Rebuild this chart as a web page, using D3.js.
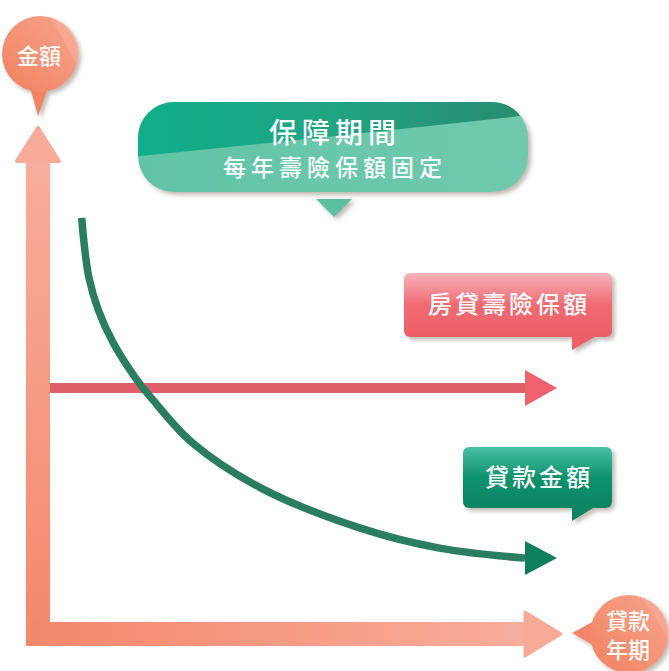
<!DOCTYPE html>
<html><head><meta charset="utf-8">
<script src="https://cdn.jsdelivr.net/npm/d3@7"></script>
<style>
body{margin:0;background:#fff}
svg{display:block}
text{font-family:"Noto Sans CJK TC","Noto Sans CJK SC","Noto Sans",sans-serif;fill:#fff;font-weight:500}
</style></head><body>
<svg id="c" width="669" height="671"></svg>
<script>
// ---- data ----
const loanYears   = [2, 2.15, 2.45, 3.05, 4, 5.35, 6.5, 9, 13.3, 19.6, 24.6, 30];
const loanBalance = [94.3, 87.8, 78.9, 70.3, 61.7, 52.9, 46.9, 35.7, 24, 13.5, 8.3, 5.7];
const coverYears  = [0, 30];
const coverAmount = [50, 50];
const yAxisTitle  = ["金額"];
const xAxisTitle  = ["貸款", "年期"];
const calloutText = ["保障期間", "每年壽險保額固定"];
const seriesLabels = ["房貸壽險保額", "貸款金額"];

const svg = d3.select("#c");
const x = d3.scaleLinear().domain([0, 30]).range([50, 525]);
const y = d3.scaleLinear().domain([0, 100]).range([580, 196]);

const defs = svg.append("defs");
function lin(id, x1, y1, x2, y2, stops) {
  const g = defs.append("linearGradient").attr("id", id)
    .attr("x1", x1).attr("y1", y1).attr("x2", x2).attr("y2", y2);
  stops.forEach(s => g.append("stop").attr("offset", s[0]).attr("stop-color", s[1]));
}
lin("gV", 0, 0, 0, 1, [[0, "#f8ad9c"], [1, "#f3886a"]]);
lin("gH", 0, 0, 1, 0, [[0, "#f3886a"], [1, "#f8ad9c"]]);
lin("gBub", 1, 0, 0, 1, [[0, "#f7a48e"], [1, "#f2825f"]]);
lin("gRed", 0, 0, 0, 1, [[0, "#f7b3bb"], [0.5, "#f06a72"], [1, "#ee6068"]]);
lin("gGrn", 0, 0, 0, 1, [[0, "#48c0a4"], [0.5, "#0f926e"], [1, "#0a8462"]]);
lin("gTop", 0, 0, 1, 0, [[0, "#10ae8a"], [0.5, "#20a482"], [1, "#2a8a6f"]]);
lin("gLow", 0, 0, 1, 0, [[0, "#62c4a6"], [1, "#70c9ad"]]);
const f = defs.append("filter").attr("id", "sh").attr("x", "-20%").attr("y", "-20%").attr("width", "150%").attr("height", "160%");
f.append("feDropShadow").attr("dx", 3).attr("dy", 3).attr("stdDeviation", 2)
  .attr("flood-color", "#8a8478").attr("flood-opacity", 0.55);

// ---- axes ----
const axisX = 38, axisY = 634, bw = 24;
svg.append("rect").attr("x", axisX - bw/2).attr("y", 158).attr("width", bw).attr("height", axisY + bw/2 - 158).attr("fill", "url(#gV)");
svg.append("path").attr("d", `M${axisX},128 L${axisX+21},161 L${axisX-21},161 Z`)
  .attr("fill", "#f8ab99").attr("stroke", "#f8ab99").attr("stroke-width", 4).attr("stroke-linejoin", "round");
svg.append("rect").attr("x", axisX - bw/2).attr("y", axisY - bw/2).attr("width", x(30) - (axisX - bw/2)).attr("height", bw).attr("fill", "url(#gH)");
svg.append("path").attr("d", `M${x(30)},612 L${x(30)+36},${axisY} L${x(30)},656 Z`)
  .attr("fill", "#f7aa98").attr("stroke", "#f7aa98").attr("stroke-width", 3).attr("stroke-linejoin", "round");

// ---- series ----
const cover = coverYears.map((d, i) => [d, coverAmount[i]]);
svg.append("path").datum(cover)
  .attr("d", d3.line().x(d => x(d[0])).y(d => y(d[1])))
  .attr("stroke", "#e0606a").attr("stroke-width", 10).attr("fill", "none");
svg.append("path").attr("d", `M${x(30)},${y(50)-18} L${x(30)+32},${y(50)} L${x(30)},${y(50)+18} Z`).attr("fill", "#f0626b");

const loan = loanYears.map((d, i) => [d, loanBalance[i]]);
svg.append("path").datum(loan)
  .attr("d", d3.line().x(d => x(d[0])).y(d => y(d[1])).curve(d3.curveCatmullRom.alpha(0.5)))
  .attr("stroke", "#2b7d60").attr("stroke-width", 7.5).attr("fill", "none");
const ly = y(loanBalance[loanBalance.length - 1]);
svg.append("path").attr("d", `M${x(30)},${ly-17} L${x(30)+32},${ly} L${x(30)},${ly+17} Z`).attr("fill", "#0d7f5f");

// ---- bubbles ----
const b1 = svg.append("g").attr("filter", "url(#sh)");
b1.append("path").attr("d", "M29,84 L49,84 L38,116 Z").attr("fill", "#f2835f");
b1.append("circle").attr("cx", 40).attr("cy", 54).attr("r", 38).attr("fill", "url(#gBub)");
svg.append("path").attr("d", "M50,17 A38,38 0 0 1 77,66 Q62,36 50,17 Z").attr("fill", "#f9b3a2").attr("opacity", 0.45);
svg.append("text").attr("x", 39).attr("y", 64).attr("text-anchor", "middle").attr("font-size", 22).text(yAxisTitle[0]);

const b2 = svg.append("g").attr("filter", "url(#sh)");
b2.append("path").attr("d", "M572,633 L598,619 L598,648 Z").attr("fill", "#f3866a");
b2.append("circle").attr("cx", 629).attr("cy", 634).attr("r", 39).attr("fill", "url(#gBub)");
svg.append("path").attr("d", "M640,597 A39,39 0 0 1 668,640 Q655,612 640,597 Z").attr("fill", "#f9b3a2").attr("opacity", 0.4);
xAxisTitle.forEach((t, i) => svg.append("text").attr("x", 628).attr("y", 629 + i * 29)
  .attr("text-anchor", "middle").attr("font-size", 22).text(t));

// ---- main callout ----
const cg = svg.append("g").attr("filter", "url(#sh)");
cg.append("rect").attr("x", 138).attr("y", 102).attr("width", 390).attr("height", 90).attr("rx", 36).attr("fill", "url(#gLow)");
defs.append("clipPath").attr("id", "cp").append("rect").attr("x", 138).attr("y", 102).attr("width", 390).attr("height", 90).attr("rx", 36);
svg.append("path").attr("clip-path", "url(#cp)")
  .attr("d", "M130,95 L540,95 L540,114 Q340,136 130,157 Z").attr("fill", "url(#gTop)");
svg.append("path").attr("d", "M316,199 L352,199 L334,217 Z").attr("fill", "#5cbf9f").attr("filter", "url(#sh)");
svg.append("text").attr("x", 335).attr("y", 143).attr("text-anchor", "middle").attr("font-size", 28)
  .attr("letter-spacing", 5).text(calloutText[0]);
svg.append("text").attr("x", 335).attr("y", 176).attr("text-anchor", "middle").attr("font-size", 23)
  .attr("letter-spacing", 5).text(calloutText[1]);

// ---- series labels ----
const rg = svg.append("g").attr("filter", "url(#sh)");
rg.append("path").attr("d", "M572,334 L600,334 L572,350 Z").attr("fill", "#ee6068");
rg.append("rect").attr("x", 404).attr("y", 273).attr("width", 208).attr("height", 64).attr("rx", 6).attr("fill", "url(#gRed)");
svg.append("text").attr("x", 509).attr("y", 313).attr("text-anchor", "middle").attr("font-size", 24)
  .attr("letter-spacing", 3).text(seriesLabels[0]);

const gg = svg.append("g").attr("filter", "url(#sh)");
gg.append("path").attr("d", "M572,505 L598,505 L572,521 Z").attr("fill", "#0a8462");
gg.append("rect").attr("x", 463).attr("y", 447).attr("width", 149).attr("height", 61).attr("rx", 6).attr("fill", "url(#gGrn)");
svg.append("text").attr("x", 539).attr("y", 486).attr("text-anchor", "middle").attr("font-size", 24)
  .attr("letter-spacing", 3).text(seriesLabels[1]);
</script>
</body></html>
